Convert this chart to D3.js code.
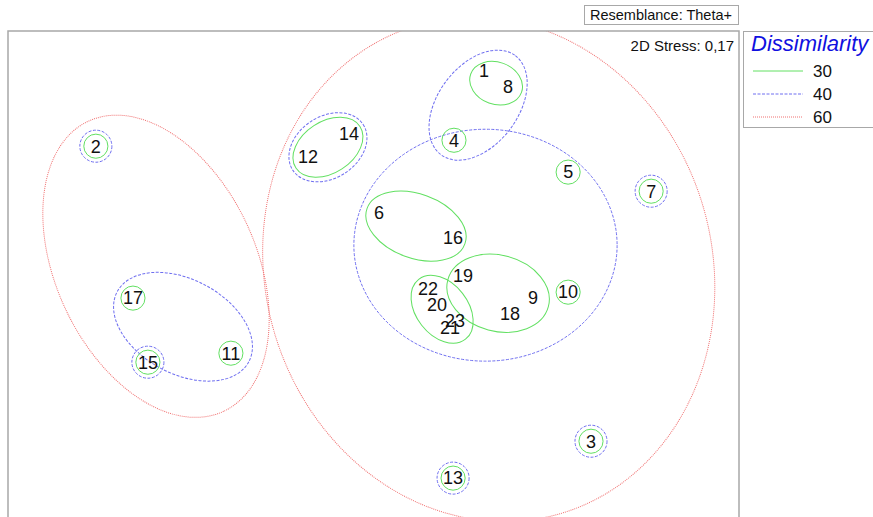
<!DOCTYPE html>
<html>
<head>
<meta charset="utf-8">
<script src="https://cdn.jsdelivr.net/npm/d3@7"></script>
<style>
  body { margin: 0; background: #fff; }
  svg { display: block; font-family: "Liberation Sans", Arial, sans-serif; }
</style>
</head>
<body>
<svg id="chart" width="873" height="517"></svg>
<script>
// MDS configuration (sample labels and 2D coordinates)
var labels = ["1","2","3","4","5","6","7","8","9","10","11","12","13","14","15","16","17","18","19","20","21","22","23"];
var mdsX = [0.614,-1.542,1.208,0.447,1.081,0.031,1.542,0.747,0.886,1.081,-0.792,-0.364,0.442,-0.136,-1.253,0.442,-1.336,0.758,0.497,0.353,0.425,0.303,0.453];
var mdsY = [1.117,0.700,-0.939,0.733,0.556,0.333,0.450,1.028,-0.139,-0.111,-0.450,0.639,-1.144,0.772,-0.500,0.189,-0.144,-0.228,-0.022,-0.178,-0.306,-0.089,-0.267];

// cluster overlays: level, members, ellipse [cx, cy, rx, ry, angle]
var levels = [30, 40, 60];
var clusterLevel = [30,30,30,30,30, 40,40,40,40, 60,60];
var clusterMembers = [["1","8"],["12","14"],["6","16"],["19","9","18"],["22","20","23","21"],
  ["1","8","4"],["12","14"],["5","6","16","19","22","20","23","21","9","18","10"],["17","15","11"],
  ["2","17","15","11"],["1","8","4","12","14","5","6","16","19","22","20","23","21","9","18","10","7","3","13"]];
var clusterShape = [[0.681,1.050,0.150,0.117,20],[-0.253,0.694,0.212,0.143,-33],[0.236,0.256,0.289,0.178,20],
  [0.692,-0.117,0.289,0.211,15],[0.381,-0.206,0.211,0.144,52],
  [0.581,0.928,0.344,0.222,-53],[-0.253,0.694,0.233,0.172,-33],[0.622,0.150,0.731,0.644,0],[-1.058,-0.303,0.414,0.262,28],
  [-1.208,0.033,0.889,0.556,65],[0.640,0.015,1.241,1.413,-16.4]];
// single-sample circles
var single30 = ["2","4","5","7","10","17","15","11","3","13"];
var single40 = ["2","7","15","3","13"];
var singleR = {30: 0.067, 40: 0.089};

var stressText = "2D Stress: 0,17";
var resemblance = "Resemblance: Theta+";
var legendTitle = "Dissimilarity";

var colors = {30: "#62e062", 40: "#6f6ff0", 60: "#f07070"};
var dashes = {30: null, 40: "3,1.5", 60: "1,1"};

var svg = d3.select("#chart");
var plotL = 8, plotT = 31, plotR = 739, plotB = 517;

var x = d3.scaleLinear().domain([-2.03, 2.03]).range([plotL, plotR]);
var y = d3.scaleLinear().domain([-1.36, 1.34]).range([plotB, plotT]);

var pts = labels.map(function(d, i) { return {label: d, x: mdsX[i], y: mdsY[i]}; });
var byLabel = {};
pts.forEach(function(p) { byLabel[p.label] = p; });

svg.append("clipPath").attr("id", "plotclip")
  .append("rect").attr("x", plotL).attr("y", plotT).attr("width", plotR - plotL).attr("height", 600);

var plot = svg.append("g").attr("clip-path", "url(#plotclip)");

// ellipses for groups
var shapes = clusterShape.map(function(s, i) { return {level: clusterLevel[i], s: s, members: clusterMembers[i]}; });
single30.forEach(function(l) { var p = byLabel[l]; shapes.push({level: 30, s: [p.x, p.y, singleR[30], singleR[30], 0], members: [l]}); });
single40.forEach(function(l) { var p = byLabel[l]; shapes.push({level: 40, s: [p.x, p.y, singleR[40], singleR[40], 0], members: [l]}); });

plot.selectAll("ellipse.grp")
  .data(shapes)
  .enter()
  .append("ellipse")
  .attr("class", "grp")
  .attr("transform", function(d) { return "translate(" + x(d.s[0]) + "," + y(d.s[1]) + ") rotate(" + d.s[4] + ")"; })
  .attr("rx", function(d) { return x(d.s[2]) - x(0); })
  .attr("ry", function(d) { return x(d.s[3]) - x(0); })
  .attr("fill", "none")
  .attr("stroke", function(d) { return colors[d.level]; })
  .attr("stroke-width", 1)
  .attr("stroke-dasharray", function(d) { return dashes[d.level]; });

plot.selectAll("text.pt")
  .data(pts)
  .enter()
  .append("text")
  .attr("class", "pt")
  .attr("x", function(d) { return x(d.x); })
  .attr("y", function(d) { return y(d.y); })
  .attr("dy", "0.35em")
  .attr("text-anchor", "middle")
  .attr("font-size", 18)
  .attr("fill", "#111")
  .text(function(d) { return d.label; });

// frame
svg.append("path")
  .attr("d", "M" + plotL + "," + (plotB + 20) + "V" + plotT + "H" + plotR + "V" + (plotB + 20))
  .attr("fill", "none").attr("stroke", "#a8a8a8").attr("stroke-width", 1.5);

svg.append("text")
  .attr("x", 734).attr("y", 51)
  .attr("text-anchor", "end").attr("font-size", 15).attr("fill", "#111")
  .text(stressText);

// resemblance box
svg.append("rect").attr("x", 584.5).attr("y", 5.5).attr("width", 154).attr("height", 19)
  .attr("fill", "#fff").attr("stroke", "#a8a8a8").attr("stroke-width", 1);
svg.append("text").attr("x", 590).attr("y", 20).attr("font-size", 14.5).attr("fill", "#111").text(resemblance);

// legend
var lg = svg.append("g");
lg.append("rect").attr("x", 743.5).attr("y", 31.5).attr("width", 140).attr("height", 96)
  .attr("fill", "#fff").attr("stroke", "#a8a8a8").attr("stroke-width", 1);
lg.append("text").attr("x", 751).attr("y", 51).attr("font-size", 22).attr("font-style", "italic")
  .attr("fill", "#1010e0").text(legendTitle);
var item = lg.selectAll("g.item").data(levels).enter().append("g").attr("class", "item")
  .attr("transform", function(d, i) { return "translate(0," + (71 + i * 23) + ")"; });
item.append("line").attr("x1", 753).attr("x2", 803).attr("y1", 0).attr("y2", 0)
  .attr("stroke", function(d) { return colors[d]; })
  .attr("stroke-width", 1)
  .attr("stroke-dasharray", function(d) { return dashes[d]; });
item.append("text").attr("x", 813).attr("dy", "0.36em").attr("font-size", 17).attr("fill", "#111")
  .text(function(d) { return d; });
</script>
</body>
</html>
